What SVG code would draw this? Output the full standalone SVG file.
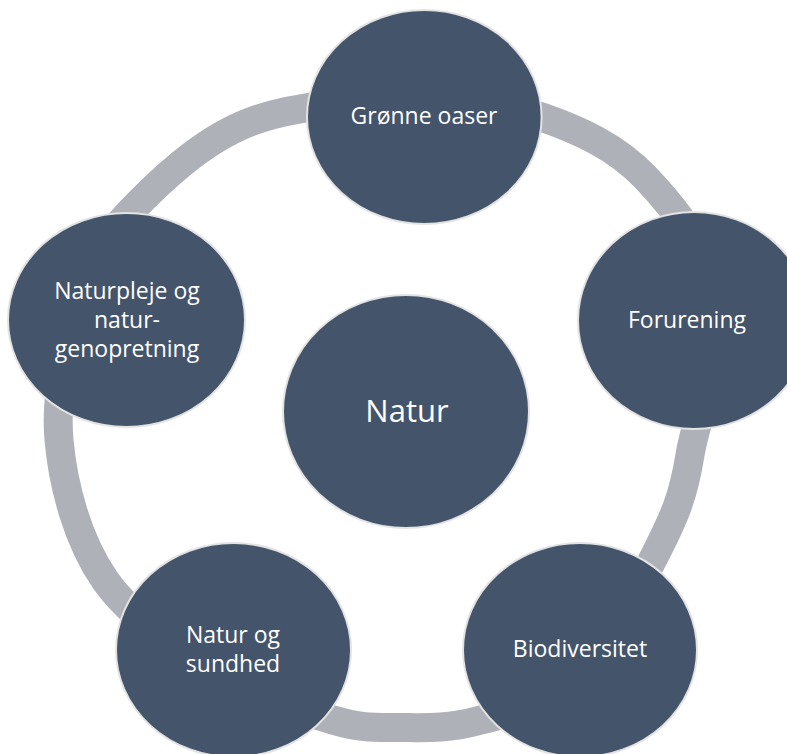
<svg xmlns="http://www.w3.org/2000/svg" width="787" height="754" viewBox="0 0 787 754">
  <style>
    .ring { fill: none; stroke: #AEB1B8; stroke-width: 29; }
    .node { fill: #44546A; stroke: #E3E3E3; stroke-width: 2; }
    .lbl { fill: #FFFFFF; font-family: "Open Sans", "Noto Sans", "Liberation Sans", sans-serif; font-size: 23px; text-anchor: middle; }
    .big { font-size: 31px; }
  </style>
  <rect x="0" y="0" width="787" height="754" fill="#FFFFFF"/>
  <g id="connectors">
    <path class="ring" d="M 424 99 C 472.83 98.25 506.17 104.5 543 117.5 C 579.83 130.5 615.83 146.58 645 177 C 674.17 207.42 710.5 253.67 718 300 C 725.5 346.33 697 412 690 455 C 683 498 674.17 517.5 655 555 C 635.83 592.5 604.67 652.33 575 680 C 545.33 707.67 506.17 713.08 477 721 C 447.83 728.92 424 727.67 400 727.5 C 376 727.33 362.67 728.75 333 720 C 303.33 711.25 260 698.33 222 675 C 184 651.67 132.17 619.17 105 580 C 77.83 540.83 63.17 486.67 59 440 C 54.83 393.33 68.17 338 80 300 C 91.83 262 101.67 241.67 130 212 C 158.33 182.33 201 140.83 250 122 C 299 103.17 375.17 99.75 424 99 Z"/>
  </g>
  <g id="node-center">
    <ellipse class="node" cx="406" cy="411.5" rx="123" ry="116.5"/>
    <text class="lbl big" x="407" y="422">Natur</text>
  </g>
  <g id="node-groenne-oaser">
    <ellipse class="node" cx="424.3" cy="117" rx="117.3" ry="107"/>
    <text class="lbl" x="424" y="124">Grønne oaser</text>
  </g>
  <g id="node-forurening">
    <ellipse class="node" cx="694" cy="320.5" rx="116" ry="108.5"/>
    <text class="lbl" x="687" y="328">Forurening</text>
  </g>
  <g id="node-biodiversitet">
    <ellipse class="node" cx="580" cy="650" rx="117" ry="107"/>
    <text class="lbl" x="580" y="657">Biodiversitet</text>
  </g>
  <g id="node-natur-og-sundhed">
    <ellipse class="node" cx="233.5" cy="650" rx="117.5" ry="107"/>
    <text class="lbl" x="233" y="643">Natur og</text>
    <text class="lbl" x="233" y="672">sundhed</text>
  </g>
  <g id="node-naturpleje">
    <ellipse class="node" cx="126.5" cy="320" rx="118.5" ry="107"/>
    <text class="lbl" x="127" y="299">Naturpleje og</text>
    <text class="lbl" x="127" y="328">natur-</text>
    <text class="lbl" x="127" y="357">genopretning</text>
  </g>
</svg>
